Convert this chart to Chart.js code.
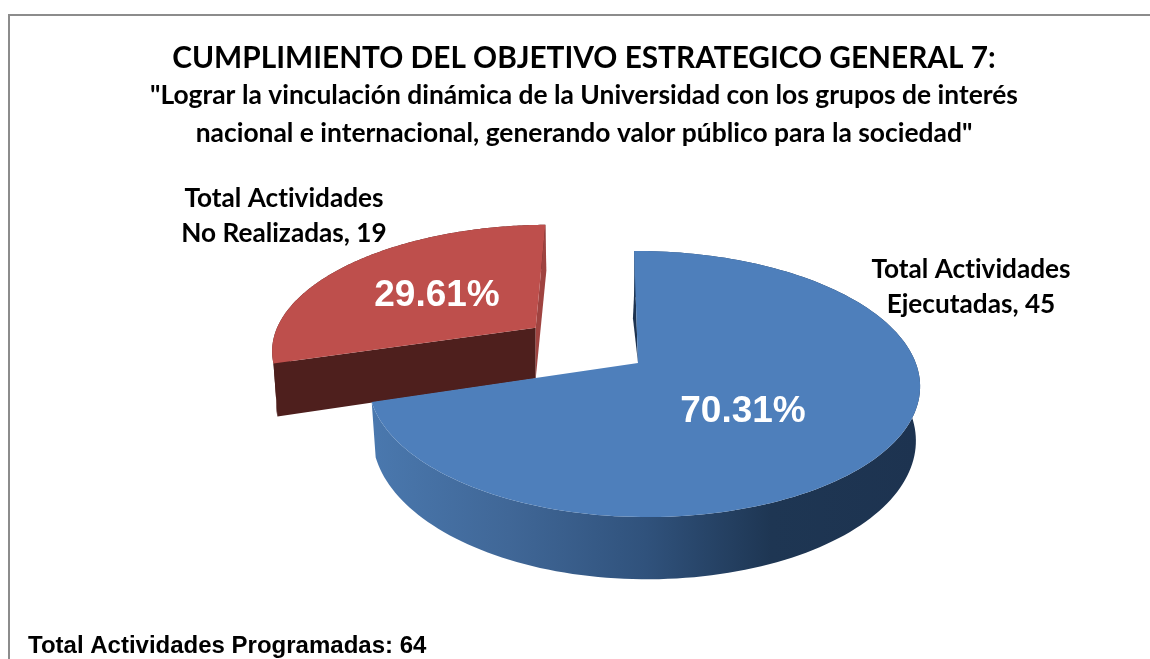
<!DOCTYPE html>
<html lang="es">
<head>
<meta charset="utf-8">
<title>Objetivo Estrategico General 7</title>
<script src="https://cdn.jsdelivr.net/npm/chart.js@4"></script>
<style>
    html, body { margin: 0; padding: 0; background: #fff; overflow: hidden; }
    #wrap { position: relative; width: 1150px; height: 659px; }
    #frame { position: absolute; left: 8px; top: 14px; right: 0; bottom: 0;
             border-left: 2px solid #8c8c8c; border-top: 2px solid #8c8c8c; }
    canvas { position: absolute; left: 0; top: 0; }
</style>
</head>
<body>
<div id="wrap">
    <div id="frame"></div>
    <canvas id="pie" width="1150" height="659"></canvas>
</div>
<script>
// datos
const categories = ['Total Actividades Ejecutadas', 'Total Actividades No Realizadas'];
const nameLines = [['Total Actividades', 'Ejecutadas, '], ['Total Actividades', 'No Realizadas, ']];
const activities = [45, 19];
const percentLabels = ['70.31%', '29.61%'];
const titleText = 'CUMPLIMIENTO DEL OBJETIVO ESTRATEGICO GENERAL 7:';
const subtitleLines = [
    '"Lograr la vinculación dinámica de la Universidad con los grupos de interés',
    'nacional e internacional, generando valor público para la sociedad"'
];
const footerText = 'Total Actividades Programadas: 64';

// geometria del disco 3D
const cx = 638, cy = 363, rx = 275, ry = 129.7;
const persY = 0.158, persX = 0.01, shear = 4.5;
const depth = 53, bottomKx = 0.985, bottomKy = 1.06;
const sliceOffset = [0, 0.48];
const leftSqueeze = [0.98, 1];

// estilos
const topColors = ['#4e7fbb', '#be4f4c'];
const redWall = '#4e1f1d', redSliver = '#9f4340', blueSliver = '#1d3350';
const percentAt = [[743, 412], [437, 296]];
const nameAt = [[971, 270], [284, 199]];

// disco (X, Y) a pantalla con perspectiva
function project(X, Y) {
    const s = 1 / (1 - persY * Y - persX * X);
    return { x: cx + rx * X * s + shear * Y * s, y: cy + ry * Y * s };
}

// punto de la cara inferior
function lower(p, apex) {
    return { x: apex.x + bottomKx * (p.x - apex.x), y: cy + depth + bottomKy * (p.y - cy) };
}

function polygon(ctx, points, fill) {
    ctx.beginPath();
    points.forEach((p, i) => i ? ctx.lineTo(p.x, p.y) : ctx.moveTo(p.x, p.y));
    ctx.closePath();
    ctx.fillStyle = fill;
    ctx.fill();
}

function sliceGeometry(arc, i) {
    const mid = (arc.startAngle + arc.endAngle) / 2;
    const ox = Math.cos(mid) * sliceOffset[i];
    const oy = Math.sin(mid) * sliceOffset[i];
    const rim = [];
    const steps = 160;
    for (let k = 0; k <= steps; k++) {
        const a = arc.startAngle + (arc.endAngle - arc.startAngle) * k / steps;
        const c = Math.cos(a);
        rim.push(project(ox + (c < 0 ? c * leftSqueeze[i] : c), oy + Math.sin(a)));
    }
    return { apex: project(ox, oy), rim };
}

const pie3d = {
    id: 'pie3d',
    beforeDraw(chart) {
        // sin ligaduras en el texto
        chart.ctx.textRendering = 'optimizeSpeed';
    },
    beforeDatasetDraw(chart, args) {
        const ctx = chart.ctx;
        const arcs = args.meta.data;
        ctx.save();

        // la porcion roja va detras
        const red = sliceGeometry(arcs[1], 1);
        const redLow = red.rim.map(p => lower(p, red.apex));
        polygon(ctx, red.rim.concat(redLow.slice().reverse()), redWall);
        polygon(ctx, [red.apex, red.rim[0], redLow[0], lower(red.apex, red.apex)], redWall);
        const north = red.rim[red.rim.length - 1];
        polygon(ctx, [north, { x: north.x + 1, y: north.y + 46 }, lower(red.apex, red.apex), red.apex], redSliver);
        polygon(ctx, [red.apex].concat(red.rim), topColors[1]);

        const blue = sliceGeometry(arcs[0], 0);
        const blueLow = blue.rim.map(p => lower(p, blue.apex));
        const grad = ctx.createLinearGradient(372, 0, 919, 0);
        grad.addColorStop(0, '#4a78ae');
        grad.addColorStop(0.25, '#406797');
        grad.addColorStop(0.5, '#30527c');
        grad.addColorStop(0.73, '#1e3653');
        grad.addColorStop(1, '#1d3350');
        polygon(ctx, blue.rim.concat(blueLow.slice().reverse()), grad);

        // pared interior, solo una linea fina a la izquierda del corte
        const edge = t => ({
            x: blue.apex.x + (blue.rim[0].x - blue.apex.x) * t,
            y: blue.apex.y + (blue.rim[0].y - blue.apex.y) * t
        });
        const inner = edge(0.4);
        polygon(ctx, [blue.apex, edge(0.78), { x: inner.x - 3.5, y: inner.y }], blueSliver);
        polygon(ctx, [blue.apex].concat(blue.rim), topColors[0]);

        ctx.restore();
        return false;
    },
    afterDraw(chart) {
        const ctx = chart.ctx;
        ctx.save();
        ctx.textAlign = 'center';
        ctx.textBaseline = 'middle';

        ctx.font = 'bold 37px "Liberation Sans"';
        ctx.fillStyle = '#fff';
        percentLabels.forEach((t, i) => ctx.fillText(t, percentAt[i][0], percentAt[i][1]));

        ctx.font = 'bold 26.2px Lato';
        ctx.fillStyle = '#000';
        nameLines.forEach((lines, i) => {
            ctx.fillText(lines[0], nameAt[i][0], nameAt[i][1]);
            ctx.fillText(lines[1] + activities[i], nameAt[i][0], nameAt[i][1] + 35);
        });

        ctx.textAlign = 'left';
        ctx.font = 'bold 24px "Liberation Sans"';
        ctx.fillText(footerText, 28, 646);
        ctx.restore();
    }
};

new Chart(document.getElementById('pie').getContext('2d'), {
    type: 'pie',
    data: {
        labels: categories,
        datasets: [{
            data: activities,
            backgroundColor: topColors,
            borderWidth: 0
        }]
    },
    options: {
        responsive: false,
        animation: false,
        layout: { padding: { left: 18 } },
        plugins: {
            legend: { display: false },
            tooltip: { enabled: false },
            title: {
                display: true,
                text: titleText,
                color: '#000',
                font: { family: 'Lato', size: 29.8, weight: 'bold', lineHeight: 1.2 },
                padding: { top: 41, bottom: 0 }
            },
            subtitle: {
                display: true,
                text: subtitleLines,
                color: '#000',
                font: { family: 'Lato', size: 26.4, weight: 'bold', lineHeight: 1.44 },
                padding: 0
            }
        }
    },
    plugins: [pie3d]
});
</script>
</body>
</html>
